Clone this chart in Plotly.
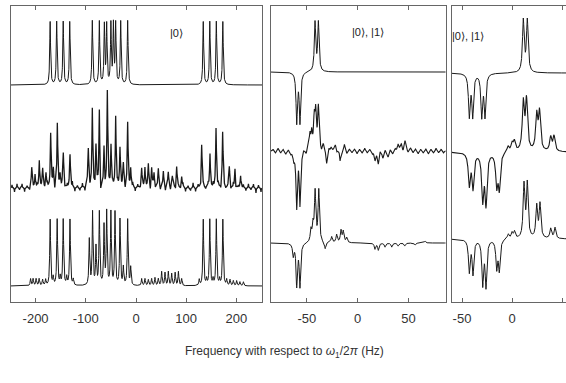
import numpy as np
import plotly.graph_objects as go

# ---------------- data: peak tables (frequency in Hz, signed height) ----------------
# Panel 1 (|0>)
P1_S1_FREQ = [-171, -158, -145, -132, -87, -73, -63, -58.4, -50, -45, -40.5, -30.5, -16.6,
              134, 147, 160, 173]
P1_S1_HEIGHT = [63, 63, 63, 63, 64, 63, 59, 59, 60, 59, 60, 63, 64, 63, 63, 63, 63]

P1_S2_FREQ = [-207.8, -201.2, -192.6, -185.9, -179.3, -170, -164.7, -156.7, -151.4, -144.8, -131.5,
              -95, -87, -79.7, -73, -70.5, -63.7, -57.1, -49.8, -40.5, -31.9, -25.2, -16.6, -10.6,
              11.3, 17.9, 24.6, 31.2, 35.9, 44.5, 54.5, 64.4, 72.4, 81, 91,
              130.8, 147.4, 159.4, 172.6, 185.9, 197.2, 208.5]
P1_S2_HEIGHT = [19, 14, 28, 18, 14, 54, 18, 60, 14, 34, 36,
                38, 76, 41, 78, -12, 39, 93, 41, 71, 41, 23, 63, 19,
                19, 21, 23, 19, 14, 18, 16, 14, 11, 21, 11,
                43, 34, 61, 55, 21, 19, 14]
P1_S2_NOISE = [3, -4, 4, -2, 4, -4, 2, -3, 5, -4, 3, -4, 4, -2, 4, -3, 2, -5, 4, -3,
               4, -2, 3, -4, 5, -4, 2, -3, 4, -4, 4, -2, 3, -4, 4, -3, 2, -4, 5, -2,
               3, -4, 4, -3, 4, -4, 2, -3, 4, -4, 3, -2, 4, -4, 3, -5, 4, -2, 4, -3,
               2, -4, 5, -3, 4, -4, 3, -2, 4, -4, 2, -3, 5, -4, 3, -4, 2, -2, 4, -3,
               4, -4, 3, -4, 5, -2, 4, -3, 4, -4, 2, -4, 3, -3, 4, -2, 4, -5, 3, -4]

P1_S3_FREQ = [-210, -205, -199, -193, -186, -180, -171, -165, -157, -151, -145, -138, -131.5, -125,
              -93, -86.5, -79.7, -73, -63.7, -58.4, -50, -41.8, -31.9, -25.2, -16.6, -10.6,
              11.3, 17.9, 24.6, 31.2, 37.8, 44.5, 51.1, 57.8, 64.4, 71.1, 78, 84.5, 91,
              126, 134, 140.5, 147, 153.5, 160, 166.5, 173, 180.6, 187.3, 193.9, 200.5, 207, 214]
P1_S3_HEIGHT = [7, 7, 7, 7, 6, 6, 66, 8, 66, 8, 66, 8, 66, 6,
                46, 73, 38, 73, 59, 73, 73, 73, 66, 18, 66, 18,
                7, 7, 6, 7, 8, 7, 14, 13, 14, 12, 13, 14, 7,
                6, 66, 6, 66, 6, 66, 6, 66, 6, 6, 5, 5, 4, 4]

# Panel 2 (|0>, |1>)
P2_S1_FREQ = [-60, -56.8, -42, -38.7]
P2_S1_HEIGHT = [-50, -50, 49, 49]

P2_S2_FREQ = [-63, -60, -56.8, -47, -45.3, -42.7, -41.3, -38.7, -34, -30.5, -26, -22, -17.4, -13,
              17, 20.3, 25, 30, 39.7, 43, 46.5]
P2_S2_HEIGHT = [-10, -55, -53, 15, 18, 28, 36, 42, 6, -12, 5, 6, -11, 5,
                -12, -12, -5, -5, 8, 6, 9]
P2_S2_NOISE = [2, -2, 3, -2, 2, -3, 2, -2, 3, -2, 2, -2, 3, -3, 2, -2, 3, -2, 2, -3,
               2, -2, 3, -2, 2, -2, 3, -2, 2, -3, 2, -2, 2, -3, 2, -2, 3, -2, 2, -2,
               3, -2, 2, -3, 2, -2, 2, -3, 2, -2, 3, -2, 2, -2, 3, -2, 2, -3, 2, -2,
               2, -3, 2, -2, 3, -2, 2, -2]

P2_S3_FREQ = [-63.4, -60, -56.8, -46, -44, -41.9, -38.3, -32, -25.6, -20.7, -16.4, -14.2, -10.8,
              17, 20.3, 26.9, 33.5, 39.8, 46.3, 56.4, 66.2]
P2_S3_HEIGHT = [-12, -42, -43, 12, 16, 50, 52, -7, 6, 8, 12, 11, 5,
                -6, -7, -4, -4, -3, -3, -2, 2]

# Panel 3 (|0>, |1>)
P3_S1_FREQ = [-42.7, -39.3, -30.3, -27, 11.3, 15.3]
P3_S1_HEIGHT = [-42, -42, -42, -42, 52, 52]

P3_S2_FREQ = [-42.7, -39, -29.3, -26, -15.3, -12.7, -4, 0, 2.3, 11.3, 14.5, 24.7, 27.5, 38.7, 42]
P3_S2_HEIGHT = [-32, -35, -46, -50, -32, -35, 6, 8, 10, 48, 50, 35, 38, 14, 15]

P3_S3_FREQ = [-42.7, -39, -29.3, -26, -15.3, -12.7, -3.7, 0, 2.5, 12, 15.3, 24.7, 28, 38.7, 43]
P3_S3_HEIGHT = [-32, -34, -44, -46, -28, -30, 5, 6, 7, 53, 54, 32, 34, 10, 11]

TICKS_P1 = [-200, -100, 0, 100, 200]
TICKS_P2 = [-50, 0, 50]
TICKS_P3 = [-50, 0, 50]
LABELS = ["|0⟩", "|0⟩, |1⟩", "|0⟩, |1⟩"]
XTITLE = "Frequency with respect to <i>ω</i><sub>1</sub>/2<i>π</i> (Hz)"

# ---------------- layout constants ----------------
W, H = 566, 383
RANGES = [[-249, 251], [-85.3, 86.6], [-60.3, 54]]
XDOMS = [[11 / W, 262 / W], [271 / W, 445.7 / W], [451.7 / W, 1.0]]
YDOM = [81 / H, 377 / H]
BASE = [[217, 114, 16], [230, 151, 59], [229, 150, 63]]


def spectrum(x, freqs, heights, gamma):
    y = np.zeros_like(x)
    for f, h in zip(freqs, heights):
        y += h * gamma ** 2 / ((x - f) ** 2 + gamma ** 2)
    return y


fig = go.Figure()
LINE = "#1a1a1a"

panels = [
    (0, [(P1_S1_FREQ, P1_S1_HEIGHT, 1.0, None, 1.0),
         (P1_S2_FREQ, P1_S2_HEIGHT, 1.0, P1_S2_NOISE, 1.3),
         (P1_S3_FREQ, P1_S3_HEIGHT, 1.0, None, 1.0)], 0.1),
    (1, [(P2_S1_FREQ, P2_S1_HEIGHT, 0.8, None, 1.0),
         (P2_S2_FREQ, P2_S2_HEIGHT, 0.8, P2_S2_NOISE, 1.1),
         (P2_S3_FREQ, P2_S3_HEIGHT, 0.8, None, 1.0)], 0.04),
    (2, [(P3_S1_FREQ, P3_S1_HEIGHT, 1.0, None, 1.0),
         (P3_S2_FREQ, P3_S2_HEIGHT, 1.2, None, 1.1),
         (P3_S3_FREQ, P3_S3_HEIGHT, 1.0, None, 1.0)], 0.04),
]

for pi, specs, step in panels:
    lo, hi = RANGES[pi]
    x = np.arange(lo, hi + step, step)
    suffix = "" if pi == 0 else str(pi + 1)
    for si, (fr, hh, g, noise, lw) in enumerate(specs):
        y = spectrum(x, fr, hh, g)
        if noise is not None:
            npos = np.linspace(lo + 2, hi - 2, len(noise))
            y += spectrum(x, npos, noise, 0.5)
        fig.add_trace(go.Scatter(x=x, y=y + BASE[pi][si], mode="lines",
                                 line=dict(color=LINE, width=lw),
                                 xaxis="x" + suffix, yaxis="y" + suffix,
                                 showlegend=False, hoverinfo="skip"))

FONT = "Liberation Sans, Arial"
AX = dict(showgrid=False, zeroline=False, showline=True, linecolor="#666", linewidth=1.2)
ticksets = [TICKS_P1, TICKS_P2, TICKS_P3]
layout = dict(width=W, height=H, margin=dict(l=0, r=0, t=0, b=0),
              paper_bgcolor="white", plot_bgcolor="white")
for i in range(3):
    s = "" if i == 0 else str(i + 1)
    layout["xaxis" + s] = dict(AX, domain=XDOMS[i], range=RANGES[i], anchor="y" + s,
                                ticks="inside", ticklen=4, tickcolor="#666", mirror="ticks",
                                tickvals=ticksets[i],
                                ticktext=[str(t) for t in ticksets[i]],
                                ticklabelstandoff=4,
                                tickfont=dict(family=FONT, size=13, color="#333"))
    layout["yaxis" + s] = dict(AX, domain=YDOM, range=[0, 296], anchor="x" + s,
                                showticklabels=False, ticks="", mirror=(i < 2))
fig.update_layout(**layout)

label_pos = [(176, 33), (368, 32), (468, 36)]
for txt, (px, py) in zip(LABELS, label_pos):
    fig.add_annotation(x=px / W, y=1 - py / H, xref="paper", yref="paper", text=txt,
                       xanchor="center", yanchor="middle",
                       showarrow=False, font=dict(family=FONT, size=11, color="#222"))
fig.add_annotation(x=284 / W, y=1 - 352 / H, xref="paper", yref="paper", text=XTITLE,
                   xanchor="center", yanchor="middle",
                   showarrow=False, font=dict(family=FONT, size=12, color="#333"))

fig.write_html("out.html", config={"displayModeBar": False},
               post_script="document.body.style.margin='0';document.body.style.overflow='hidden';")
